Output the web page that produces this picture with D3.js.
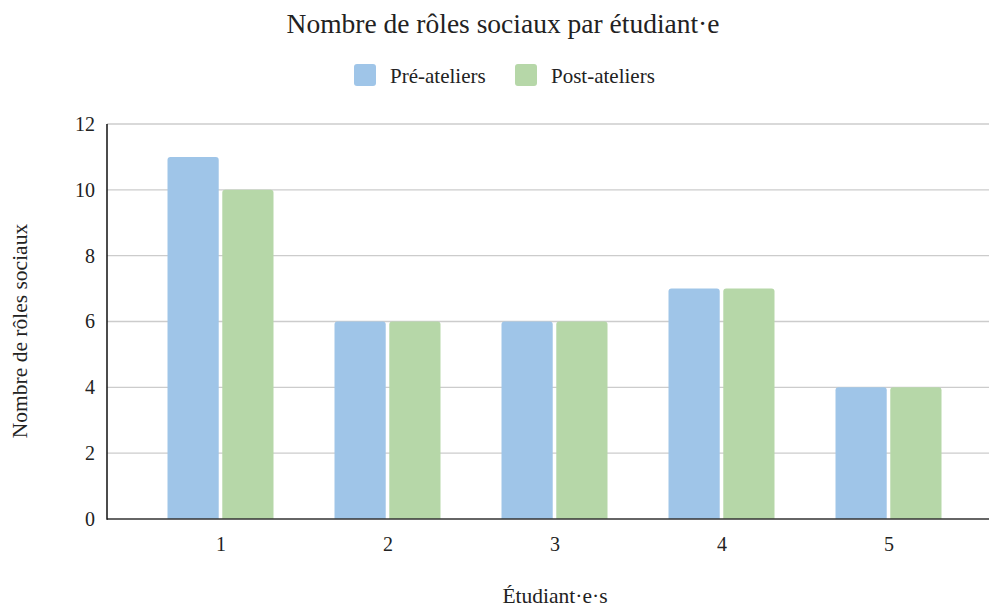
<!DOCTYPE html>
<html>
<head>
<meta charset="utf-8">
<script src="https://cdn.jsdelivr.net/npm/d3@7"></script>
<style>
  html, body { margin: 0; padding: 0; background: #fff; }
</style>
</head>
<body>
<svg id="chart" width="990" height="609"></svg>
<script>
// Students and social-role counts before / after the workshops
const students = ["1", "2", "3", "4", "5"];
const seriesNames = ["Pré-ateliers", "Post-ateliers"];
const preValues = [11, 6, 6, 7, 4];
const postValues = [10, 6, 6, 7, 4];
const yTicks = [0, 2, 4, 6, 8, 10, 12];
const colors = ["#9fc5e8", "#b6d7a8"];

const FONT = "'Liberation Serif', 'Times New Roman', Times, serif";
const TEXT_COLOR = "#222";

const rows = students.map((s, i) => ({ student: s, values: [preValues[i], postValues[i]] }));

const svg = d3.select("#chart");
const plotLeft = 107, plotRight = 989, plotTop = 124, plotBottom = 519;

const x0 = d3.scalePoint().domain(students).range([137, 972]).padding(0.5);
const x1 = d3.scaleBand().domain(d3.range(seriesNames.length)).range([-53, 53]).paddingInner(0.065);
const y = d3.scaleLinear().domain([0, 12]).range([plotBottom, plotTop]);

function styleText(sel, size) {
  return sel.attr("font-family", FONT)
    .style("font-family", FONT)
    .style("font-size", size + "px")
    .attr("fill", TEXT_COLOR);
}

// Title
styleText(svg.append("text")
  .attr("x", 503).attr("y", 33)
  .attr("text-anchor", "middle"), 27.5)
  .text("Nombre de rôles sociaux par étudiant·e");

// Legend
const legendItems = [{ x: 354, tx: 390 }, { x: 515, tx: 551 }];
seriesNames.forEach((name, i) => {
  svg.append("rect")
    .attr("x", legendItems[i].x).attr("y", 64)
    .attr("width", 22).attr("height", 22)
    .attr("rx", 3)
    .attr("fill", colors[i]);
  styleText(svg.append("text")
    .attr("x", legendItems[i].tx).attr("y", 82.5), 21)
    .text(name);
});

// Horizontal gridlines
svg.append("g")
  .selectAll("line")
  .data(yTicks.filter(t => t > 0))
  .join("line")
  .attr("x1", plotLeft).attr("x2", plotRight)
  .attr("y1", d => y(d)).attr("y2", d => y(d))
  .attr("stroke", "#cccccc")
  .attr("stroke-width", 1.3);

// Y tick labels
const yAxis = d3.axisLeft(y).tickValues(yTicks).tickSize(0).tickPadding(12);
const gy = svg.append("g").attr("transform", `translate(${plotLeft},0)`).call(yAxis);
gy.attr("font-family", FONT);
gy.select(".domain").remove();
styleText(gy.selectAll("text"), 20);

// Bars with rounded tops
function topRounded(xp, yp, w, h, r) {
  r = Math.min(r, w / 2, h);
  return `M${xp},${yp + h}V${yp + r}Q${xp},${yp} ${xp + r},${yp}H${xp + w - r}Q${xp + w},${yp} ${xp + w},${yp + r}V${yp + h}Z`;
}

const groups = svg.append("g")
  .selectAll("g")
  .data(rows)
  .join("g")
  .attr("transform", d => `translate(${x0(d.student)},0)`);

groups.selectAll("path")
  .data(d => d.values.map((v, i) => ({ v, i })))
  .join("path")
  .attr("fill", d => colors[d.i])
  .attr("d", d => topRounded(x1(d.i), y(d.v), x1.bandwidth(), y(0) - y(d.v), 3));

// X tick labels
const xAxis = d3.axisBottom(x0).tickSize(0).tickPadding(18);
const gx = svg.append("g").attr("transform", `translate(0,${plotBottom})`).call(xAxis);
gx.attr("font-family", FONT);
gx.select(".domain").remove();
styleText(gx.selectAll("text"), 20);

// Axis lines
svg.append("line")
  .attr("x1", plotLeft).attr("x2", plotRight)
  .attr("y1", plotBottom).attr("y2", plotBottom)
  .attr("stroke", "#333").attr("stroke-width", 1.5);
svg.append("line")
  .attr("x1", plotLeft).attr("x2", plotLeft)
  .attr("y1", plotTop).attr("y2", plotBottom + 0.75)
  .attr("stroke", "#111").attr("stroke-width", 1.5);

// Axis titles
styleText(svg.append("text")
  .attr("x", 555).attr("y", 603)
  .attr("text-anchor", "middle"), 21.5)
  .text("Étudiant·e·s");

styleText(svg.append("text")
  .attr("transform", "translate(27,331) rotate(-90)")
  .attr("text-anchor", "middle"), 21.5)
  .text("Nombre de rôles sociaux");
</script>
</body>
</html>
